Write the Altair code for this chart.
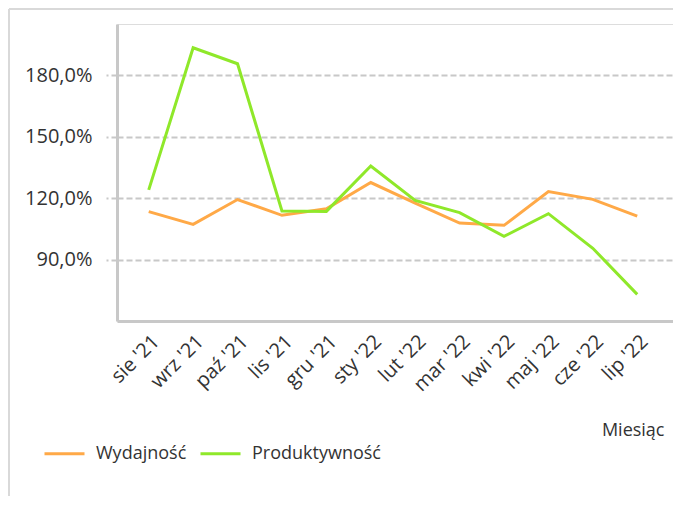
import altair as alt
import pandas as pd

months = ["sie '21", "wrz '21", "paź '21", "lis '21", "gru '21", "sty '22",
          "lut '22", "mar '22", "kwi '22", "maj '22", "cze '22", "lip '22"]
wydajnosc = [113.4, 107.2, 119.3, 111.6, 114.8, 127.6, 117.5, 107.8, 106.7, 123.2, 119.4, 111.2]
produktywnosc = [124.0, 193.4, 185.6, 113.7, 113.5, 135.7, 118.9, 112.9, 101.3, 112.4, 95.5, 73.0]
series = ["Wydajność", "Produktywność"]
colors = ["#FFA947", "#8FE82A"]
y_ticks = [90, 120, 150, 180]

rows = []
for s, vals in zip(series, [wydajnosc, produktywnosc]):
    for m, v in zip(months, vals):
        rows.append({"Miesiąc": m, "Seria": s, "Wartość": v})
df = pd.DataFrame(rows)

W, H = 556, 297
FONT = "Open Sans"
TXT = "#333333"

lines = alt.Chart(df).mark_line(strokeWidth=3).encode(
    x=alt.X("Miesiąc:N", sort=months,
            scale=alt.Scale(type="point", padding=0.76, align=0.47),
            axis=alt.Axis(title="Miesiąc", labelAngle=-45, labelFontSize=20,
                          labelFont=FONT, labelColor=TXT, ticks=False,
                          labelPadding=10, domainColor="#C8C8C8", domainWidth=3,
                          grid=False, titleFont=FONT, titleFontSize=18,
                          titleFontWeight="normal", titleColor=TXT,
                          titleX=547, titleY=114, titleAlign="right",
                          titleBaseline="alphabetic")),
    y=alt.Y("Wartość:Q",
            scale=alt.Scale(domain=[60, 205], nice=False, zero=False),
            axis=alt.Axis(title=None, values=y_ticks,
                          labelExpr="replace(format(datum.value, '.1f'), '.', ',') + '%'",
                          labelFontSize=20, labelFont=FONT, labelColor=TXT,
                          labelPadding=14, tickSize=11, tickColor="#C8C8C8",
                          tickWidth=2, tickDash=[6, 3], domainColor="#C8C8C8",
                          domainWidth=3, grid=True, gridColor="#C8C8C8",
                          gridWidth=2, gridDash=[6, 3])),
    color=alt.Color("Seria:N", sort=series,
                    scale=alt.Scale(domain=series, range=colors),
                    legend=alt.Legend(title=None, orient="none", direction="horizontal",
                                      legendX=-74, legendY=408, symbolType="stroke",
                                      symbolSize=1600, symbolStrokeWidth=3,
                                      labelFontSize=18, labelFont=FONT,
                                      labelColor=TXT, labelOffset=10,
                                      columnPadding=7, padding=0)),
)

frame = alt.Chart(alt.Data(values=[{}])).mark_rule(color="#D9D9D9", strokeWidth=2)
left_border = frame.encode(x=alt.value(-108), y=alt.value(-15), y2=alt.value(480))
top_border = frame.encode(x=alt.value(-108), x2=alt.value(W), y=alt.value(-15))

chart = alt.layer(left_border, top_border, lines).properties(
    width=W, height=H,
    autosize=alt.AutoSizeParams(type="none"),
    padding={"left": 109, "top": 16, "right": 0, "bottom": 175},
).configure_view(stroke=None).configure(background="white")

chart.save("out.html", embed_options={"renderer": "svg", "actions": False})
